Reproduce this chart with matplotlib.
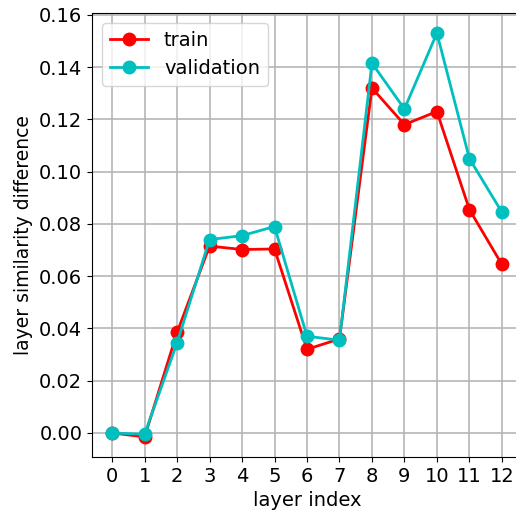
import numpy as np
import matplotlib.pyplot as plt

layers = np.arange(13)
train = [0.0, -0.0015, 0.0385, 0.0715, 0.0702, 0.0704, 0.032, 0.036,
         0.132, 0.118, 0.123, 0.0855, 0.0645]
validation = [0.0, -0.0005, 0.0345, 0.074, 0.0755, 0.079, 0.037, 0.0355,
              0.1415, 0.124, 0.153, 0.105, 0.0845]

plt.rcParams['font.size'] = 14

fig = plt.figure(figsize=(5.16, 5.19), dpi=100)
ax = fig.add_axes([92 / 516, 1 - 457 / 519, 430 / 516, 444 / 519])

ax.plot(layers, train, 'r-o', lw=2, ms=9, label='train')
ax.plot(layers, validation, 'c-o', lw=2, ms=9, label='validation')

ax.set_xticks(layers)
ax.set_xlim(-0.62, 12.62)
ax.set_ylim(-0.0092, 0.1607)
ax.set_xlabel('layer index')
ax.set_ylabel('layer similarity difference', fontsize=13.5)
ax.grid(True, color='#b0b0b0', lw=1.1)
ax.spines['right'].set_visible(False)
ax.legend(loc='upper left')

fig.savefig('out.png', dpi=100)
